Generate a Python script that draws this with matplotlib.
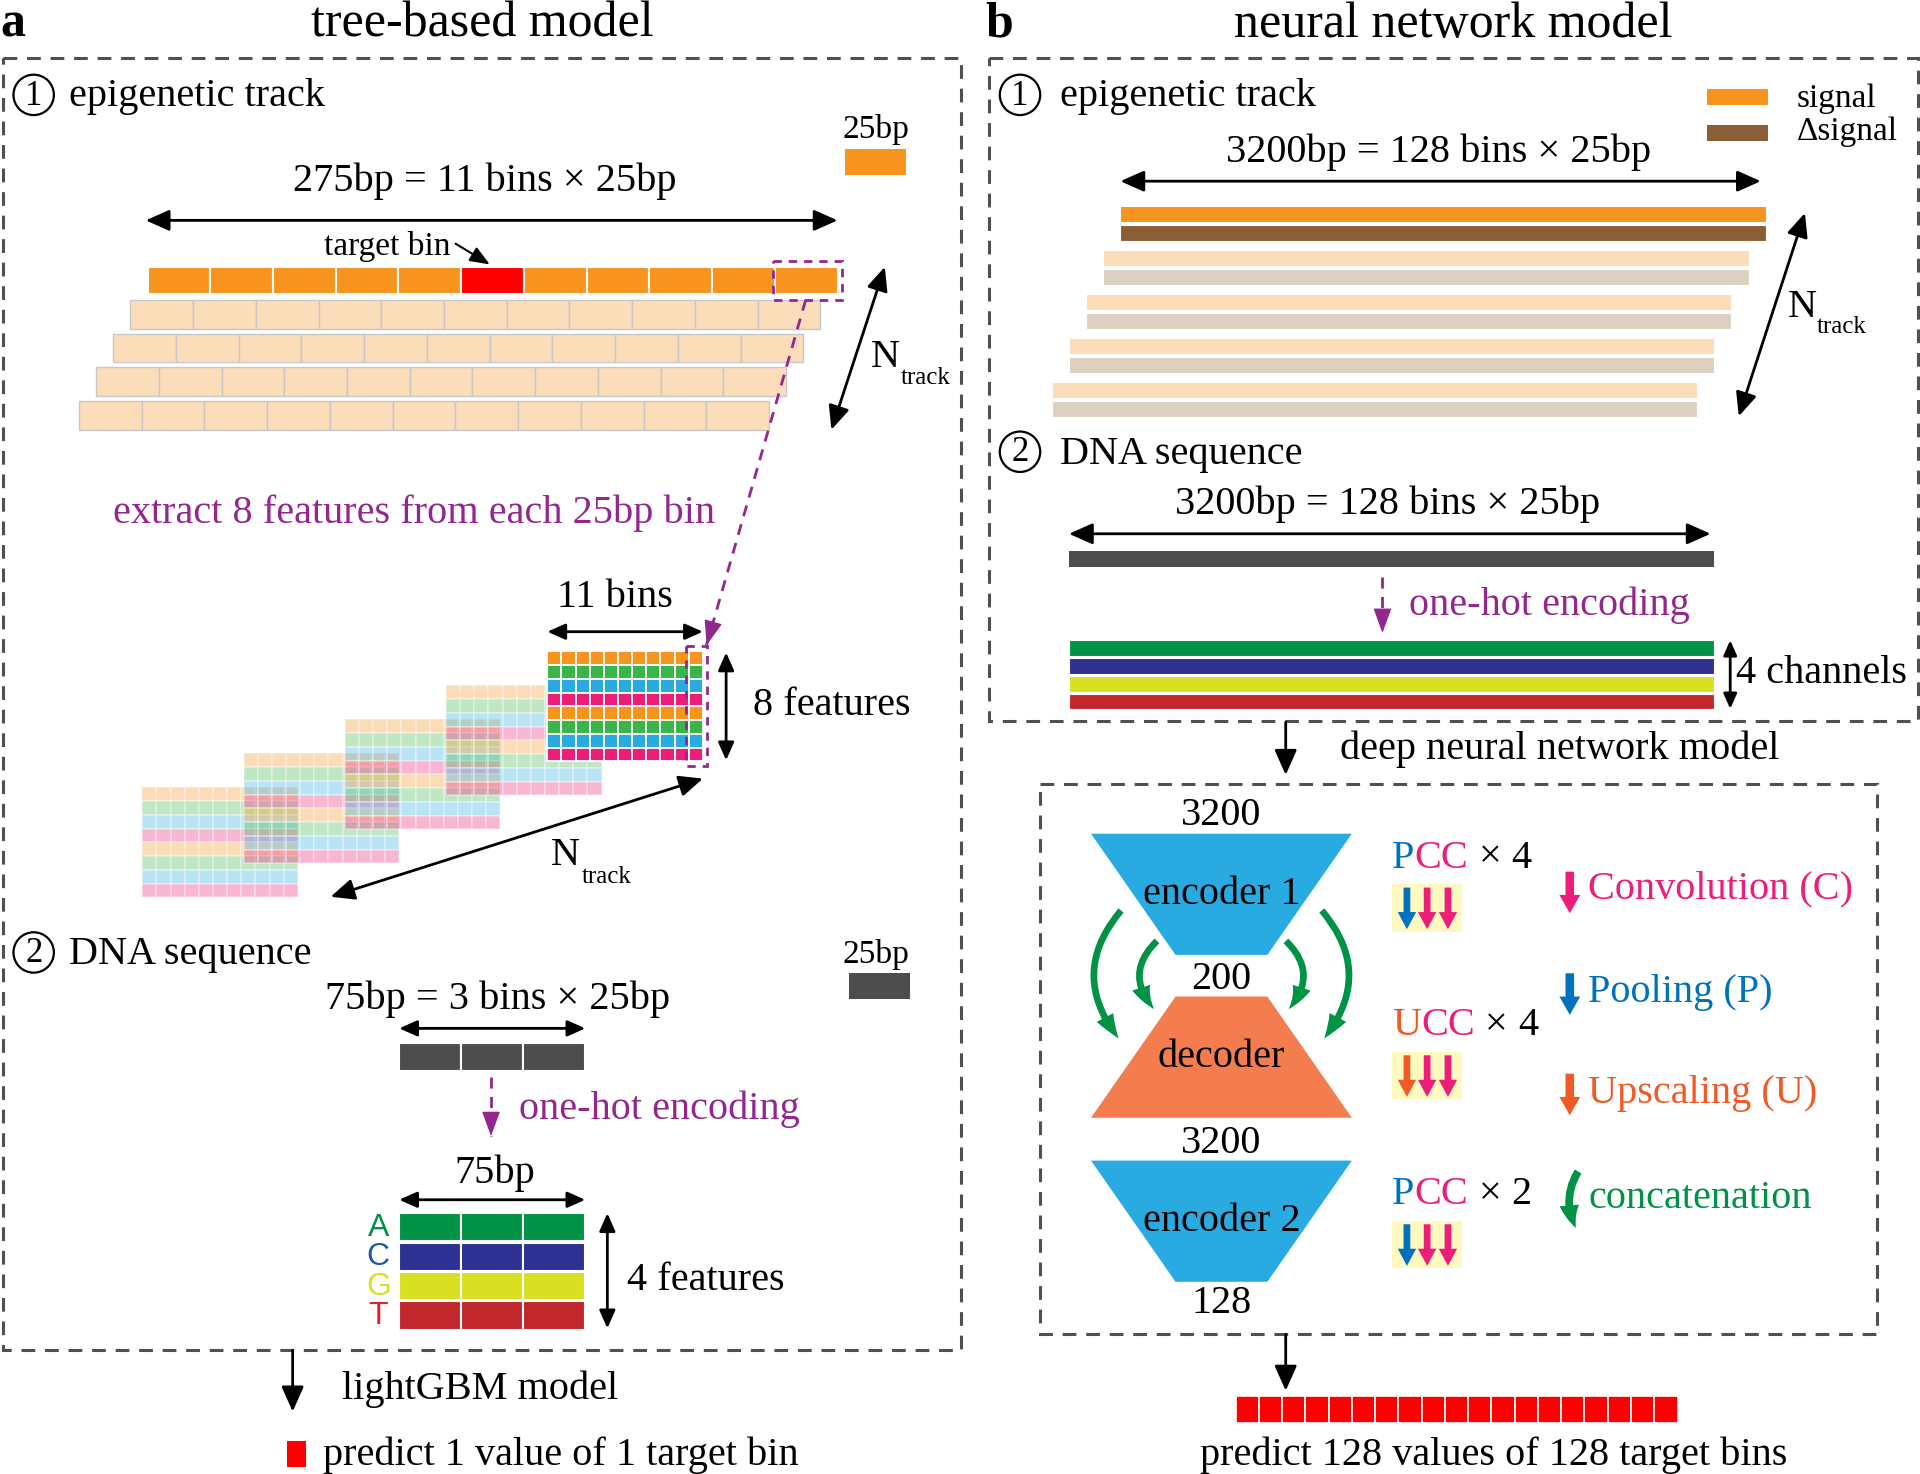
import numpy as np
import matplotlib.pyplot as plt
from matplotlib.patches import Rectangle, Polygon, Circle, FancyArrowPatch

plt.rcParams['font.family'] = ['Liberation Serif', 'DejaVu Serif']

# ── data ─────────────────────────────────────────
panel_labels = ['a', 'b']
panel_titles = ['tree-based model', 'neural network model']
bins_a = 11
target_idx = 5
tracks_a = 5
n_features = 8
feature_colors = ['#F7941D', '#39B54A', '#29ABE2', '#ED1E79'] * 2
dna_bins = 3
dna_letters = ['A', 'C', 'G', 'T']
dna_colors = ['#009245', '#2E3192', '#D9E021', '#C1272D']
letter_colors = ['#009245', '#1B5AA8', '#D9E021', '#ED1C24']
tracks_b = 5
blocks = ['encoder 1', 'decoder', 'encoder 2']
block_sizes = ['3200', '200', '3200', '128']
block_ops = [('P', 'CC', '4'), ('U', 'CC', '4'), ('P', 'CC', '2')]
legend_ops = ['Convolution (C)', 'Pooling (P)', 'Upscaling (U)', 'concatenation']
pred_bins_b = 19

ORANGE = '#F7941D'
PEACH = '#FCDDBA'
BROWN = '#8C5E35'
TAN = '#DDD0C1'
PURPLE = '#93278F'
DARK = '#4D4D4D'
PINK = '#ED1E79'
BLUE = '#0071BC'
UORANGE = '#F15A24'
GREEN = '#009245'
CYAN = '#29ABE2'
SALMON = '#F47D4F'
YELLOW = '#FFF9BF'
BOXC = '#505050'

FS = 29

fig = plt.figure(figsize=(19.2, 14.74), dpi=100)
ax = fig.add_axes([0, 0, 1, 1])
ax.set_xlim(0, 1568)
ax.set_ylim(1204, 0)
ax.axis('off')
PX = 1568 / 1920
EM = FS / 72 * 100 * PX          # one em in axis units
ADV = {'P': 0.556, 'U': 0.722, 'C': 0.667, ' ': 0.25, '×': 0.564}  # Times advances


def txt(x, y, s, size=FS, color='black', ha='left', va='center', **kw):
    return ax.text(x, y, s, fontsize=size, color=color, ha=ha, va=va, **kw)


def ctext(x, y, parts):
    # colored pieces of text placed one after another
    for s, c in parts:
        if s.strip():
            txt(x, y, s, color=c)
        x += sum(ADV.get(ch, 0.5) for ch in s) * EM


def darrow(x1, y1, x2, y2, lw=2.0, ms=32, style='<|-|>'):
    ax.annotate('', xy=(x2, y2), xytext=(x1, y1),
                arrowprops=dict(arrowstyle=style + ',head_length=0.45,head_width=0.2',
                                color='black', lw=lw, mutation_scale=ms,
                                shrinkA=0, shrinkB=0))


def dashed_box(x0, y0, x1, y1, color=BOXC, lw=2.2, dash=(4.5, 3.2)):
    ax.add_patch(Rectangle((x0, y0), x1 - x0, y1 - y0, fill=False, ec=color,
                           lw=lw, ls=(0, dash)))


def purple_arrow(x1, y1, x2, y2):
    ax.plot([x1, x2], [y1, y2], color=PURPLE, lw=2, ls=(0, (4, 3)))
    v = np.array([x2 - x1, y2 - y1]) / np.hypot(x2 - x1, y2 - y1)
    ax.annotate('', xy=(x2, y2), xytext=(x2 - v[0] * 4, y2 - v[1] * 4),
                arrowprops=dict(arrowstyle='-|>,head_length=0.6,head_width=0.22',
                                color=PURPLE, lw=1, mutation_scale=26,
                                shrinkA=0, shrinkB=0))


def circled(x, y, d):
    ax.add_patch(Circle((x, y), 16.5, fill=False, lw=1.6, ec='black'))
    txt(x, y + 1, d, size=25, ha='center')


# ── titles and frames ───────────────────────────
txt(0, 20, panel_labels[0], size=36, weight='bold')
txt(394, 20, panel_titles[0], size=36, ha='center')
txt(805, 20, panel_labels[1], size=36, weight='bold')
txt(1187, 20, panel_titles[1], size=36, ha='center')

dashed_box(2.5, 47, 785, 1103)
dashed_box(808, 47, 1566, 589)
dashed_box(849, 640, 1533, 1090)

# ── panel a: epigenetic track ───────────────────
circled(27.5, 77.5, '1')
txt(56, 79, 'epigenetic track')
txt(715, 106, '25bp', size=24, ha='center')
ax.add_patch(Rectangle((690, 122), 50, 21, fc=ORANGE, ec='none'))
txt(396, 148, '275bp = 11 bins × 25bp', ha='center')
darrow(119, 180, 684, 180)

bx0, bx1 = 120.5, 684
bw = (bx1 - bx0) / bins_a
for k in range(1, tracks_a):
    xs = bx0 - 14 * k
    ys = 245 + 27.5 * (k - 1)
    for i in range(bins_a):
        ax.add_patch(Rectangle((xs + i * bw, ys), bw, 23.5, fc=PEACH,
                               ec='#C8C8C8', lw=1))
for i in range(bins_a):
    c = '#FF0000' if i == target_idx else ORANGE
    ax.add_patch(Rectangle((bx0 + i * bw, 218), bw, 22, fc=c, ec='white', lw=1.5))

txt(316, 201, 'target bin', size=24, ha='center')
ax.annotate('', xy=(400, 216), xytext=(372, 199),
            arrowprops=dict(arrowstyle='-|>,head_length=0.5,head_width=0.2',
                            color='black', lw=1.5, mutation_scale=24,
                            shrinkA=0, shrinkB=0))
dashed_box(631, 213, 688, 245, color=PURPLE, lw=2, dash=(3, 2.5))

darrow(722.6, 218, 679, 351)
txt(711, 292, 'N')
txt(736, 309, 'track', size=18)

txt(338, 419, 'extract 8 features from each 25bp bin', color=PURPLE, ha='center')

# feature grids, back to front
gx0, gy0 = 447, 532
cw = 127 / bins_a
rh = 90 / n_features
for k in reversed(range(tracks_a)):
    gx = gx0 - 82.7 * k
    gy = gy0 + 27.75 * k
    a = 1 if k == 0 else 0.32
    for r in range(n_features):
        for i in range(bins_a):
            ax.add_patch(Rectangle((gx + i * cw, gy + r * rh), cw, rh,
                                   fc=feature_colors[r], ec='white', lw=1.3, alpha=a))

purple_arrow(658, 245, 577, 527)
dashed_box(560, 528, 577, 626, color=PURPLE, lw=2, dash=(3, 2.5))

txt(502, 488, '11 bins', ha='center')
darrow(447, 516, 574, 516, ms=24)
darrow(593, 533, 593, 621, ms=24)
txt(615, 576, '8 features')

darrow(574, 636, 270, 732.5)
txt(450, 699, 'N')
txt(475, 716, 'track', size=18)

# ── panel a: DNA sequence ──────────────────────
circled(27.5, 778, '2')
txt(56, 780, 'DNA sequence')
txt(715, 780, '25bp', size=24, ha='center')
ax.add_patch(Rectangle((693, 795), 50, 21, fc=DARK, ec='none'))
txt(406, 816, '75bp = 3 bins × 25bp', ha='center')
darrow(326, 840, 478, 840, ms=24)
dw = (478 - 326) / dna_bins
for i in range(dna_bins):
    ax.add_patch(Rectangle((326 + i * dw, 852), dw, 23, fc=DARK, ec='white', lw=1.5))
purple_arrow(401, 880, 401, 928)
txt(424, 906, 'one-hot encoding', color=PURPLE)

txt(404, 958, '75bp', ha='center')
darrow(326, 980, 478, 980, ms=24)
for r, (lt, c, lc) in enumerate(zip(dna_letters, dna_colors, letter_colors)):
    y = 991 + r * 24
    for i in range(dna_bins):
        ax.add_patch(Rectangle((326 + i * dw, y), dw, 23, fc=c, ec='white', lw=1.5))
    txt(309, y + 12, lt, size=23, color=lc, ha='center', family='Liberation Sans')
darrow(496, 991, 496, 1085, ms=24)
txt(512, 1046, '4 features')

darrow(239, 1103, 239, 1153, style='-|>', ms=34)
txt(279, 1135, 'lightGBM model')
ax.add_patch(Rectangle((234, 1177), 16, 21, fc='#FF0000', ec='none'))
txt(264, 1189, 'predict 1 value of 1 target bin')

# ── panel b: epigenetic track ───────────────────
circled(833, 77.5, '1')
txt(866, 79, 'epigenetic track')
ax.add_patch(Rectangle((1394, 73), 50, 13, fc=ORANGE, ec='none'))
ax.add_patch(Rectangle((1394, 102), 50, 13, fc=BROWN, ec='none'))
txt(1467, 81, 'signal', size=24)
txt(1467, 108, 'Δsignal', size=24)
txt(1175, 124, '3200bp = 128 bins × 25bp', ha='center')
darrow(915, 148, 1438, 148)

for k in range(tracks_b):
    xs = 915 - 14 * k
    ys = 168 + 36 * k
    c1, c2 = (ORANGE, BROWN) if k == 0 else (PEACH, TAN)
    ax.add_patch(Rectangle((xs, ys), 527, 13, fc=c1, ec='white', lw=0.8))
    ax.add_patch(Rectangle((xs, ys + 15.5), 527, 13, fc=c2, ec='white', lw=0.8))
darrow(1474, 174, 1420, 340)
txt(1460, 251, 'N')
txt(1484, 267, 'track', size=18)

# ── panel b: DNA sequence ──────────────────────
circled(833, 369, '2')
txt(866, 371, 'DNA sequence')
txt(1133, 412, '3200bp = 128 bins × 25bp', ha='center')
darrow(873, 436, 1397, 436)
ax.add_patch(Rectangle((873, 450), 527, 13, fc=DARK, ec='none'))
purple_arrow(1129, 471, 1129, 517)
txt(1151, 494, 'one-hot encoding', color=PURPLE)
for r, c in enumerate(dna_colors):
    ax.add_patch(Rectangle((873, 523 + r * 14.5), 527, 13, fc=c, ec='white', lw=0.8))
darrow(1413, 523, 1413, 579, ms=20)
txt(1418, 550, '4 channels')

darrow(1050, 590, 1050, 633, style='-|>', ms=34)
txt(1274, 612, 'deep neural network model', ha='center')

# ── U-net like model ───────────────────────────
cx = 997.5
wide, narrow = 106.5, 37.5
tops = [681, 814, 948]
h = 99
for b, (name, top) in enumerate(zip(blocks, tops)):
    if b == 1:
        pts = [(cx - narrow, top), (cx + narrow, top), (cx + wide, top + h), (cx - wide, top + h)]
        col = SALMON
    else:
        pts = [(cx - wide, top), (cx + wide, top), (cx + narrow, top + h), (cx - narrow, top + h)]
        col = CYAN
    ax.add_patch(Polygon(pts, closed=True, fc=col, ec='none'))
    txt(cx, top + 50, name, ha='center')
for s, y in zip(block_sizes, [666, 800, 934, 1065]):
    txt(cx, y, s, ha='center')

sty = 'simple,head_length=0.6,head_width=0.45,tail_width=0.16'
for (p1, p2, rad) in [((917, 742), (915, 850), 0.42), ((946.5, 767), (944, 826), 0.5),
                      ((1078, 742), (1080, 850), -0.42), ((1048.5, 767), (1051, 826), -0.5)]:
    ax.add_patch(FancyArrowPatch(p1, p2, connectionstyle=f'arc3,rad={rad}',
                                 arrowstyle=sty, mutation_scale=30, color=GREEN, lw=0))

op_colors = {'P': BLUE, 'U': UORANGE}
for (first, rest, n), ty in zip(block_ops, [701, 838, 976]):
    ctext(1137, ty, [(first, op_colors[first]), (rest, PINK), (' ', 'black'),
                     ('×', 'black'), (' ', 'black'), (n, 'black')])
    by = ty + 21
    ax.add_patch(Rectangle((1137, by), 57, 39, fc=YELLOW, ec='none'))
    for xa, c in zip([1149, 1165.5, 1182.5], [op_colors[first], PINK, PINK]):
        ax.arrow(xa, by + 3, 0, 34, width=5.5, head_width=15, head_length=14,
                 length_includes_head=True, fc=c, ec='none')

for name, c, ya, ty in zip(legend_ops[:3], [PINK, BLUE, UORANGE], [712, 795, 877], [726, 811, 893]):
    ax.arrow(1282, ya, 0, 34, width=7, head_width=17, head_length=15,
             length_includes_head=True, fc=c, ec='none')
    txt(1297, ty, name, color=c)
ax.add_patch(FancyArrowPatch((1290, 955), (1288, 1005), connectionstyle='arc3,rad=0.3',
                             arrowstyle='simple,head_length=0.6,head_width=0.5,tail_width=0.2',
                             mutation_scale=28, color=GREEN, lw=0))
txt(1297, 979, legend_ops[3], color=GREEN)

darrow(1050, 1090, 1050, 1136, style='-|>', ms=34)
rw = (1370 - 1009) / pred_bins_b
for i in range(pred_bins_b):
    ax.add_patch(Rectangle((1009 + i * rw, 1140), rw, 22, fc='#FF0000', ec='white', lw=1.2))
txt(1220, 1189, 'predict 128 values of 128 target bins', ha='center')

fig.savefig('out.png', dpi=100)
